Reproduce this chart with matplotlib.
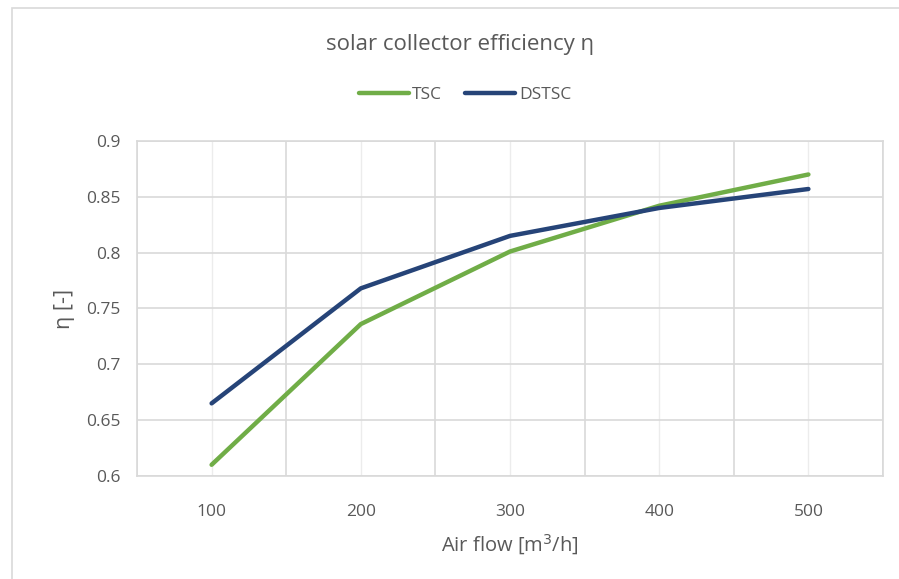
import matplotlib.pyplot as plt
from matplotlib.patches import Rectangle

# air flow categories and collector efficiencies
air_flow = ["100", "200", "300", "400", "500"]
eta_tsc = [0.610, 0.736, 0.801, 0.842, 0.870]
eta_dstsc = [0.665, 0.768, 0.815, 0.840, 0.857]
y_ticks = [0.6, 0.65, 0.7, 0.75, 0.8, 0.85, 0.9]
y_tick_labels = ["0.6", "0.65", "0.7", "0.75", "0.8", "0.85", "0.9"]

plt.rcParams["font.family"] = ["Open Sans", "DejaVu Sans"]
text_grey = "#595959"

fig = plt.figure(figsize=(8.99, 5.79), dpi=100)
fig.patches.append(Rectangle((0.013, -0.01), 1.0, 0.997, transform=fig.transFigure,
                             fill=False, edgecolor="#d9d9d9", linewidth=1.2))

ax = fig.add_axes([0.1524, 0.178, 0.8298, 0.5785])
x = range(len(air_flow))
ax.plot(x, eta_tsc, color="#70AD47", linewidth=3.2, solid_capstyle="round", label="TSC")
ax.plot(x, eta_dstsc, color="#264478", linewidth=3.2, solid_capstyle="round", label="DSTSC")

ax.set_xlim(-0.5, len(air_flow) - 0.5)
ax.set_ylim(0.6, 0.9)
ax.set_xticks(list(x))
ax.set_xticklabels(air_flow)
ax.set_xticks([i - 0.5 for i in range(len(air_flow) + 1)], minor=True)
ax.set_yticks(y_ticks)
ax.set_yticklabels(y_tick_labels)
ax.tick_params(axis="both", which="both", length=0, labelsize=12.5, colors=text_grey)
ax.tick_params(axis="x", pad=20)
ax.tick_params(axis="y", pad=12)

ax.grid(True, axis="y", color="#d9d9d9", linewidth=1.2)
ax.grid(True, axis="x", which="minor", color="#d9d9d9", linewidth=1.2)
ax.grid(True, axis="x", which="major", color="#ececec", linewidth=1.0)
ax.set_axisbelow(True)
for side in ["top", "right", "left", "bottom"]:
    ax.spines[side].set_color("#d9d9d9")
    ax.spines[side].set_linewidth(1.2)

ax.set_xlabel("Air flow [m$^3$/h]", fontsize=14.5, color=text_grey, labelpad=9)
ax.set_ylabel("η [-]", fontsize=15.5, color=text_grey, labelpad=8)

fig.text(0.512, 0.924, "solar collector efficiency η", ha="center", va="center",
         fontsize=16, color=text_grey)
fig.legend(loc="center", bbox_to_anchor=(0.517, 0.836), ncol=2, frameon=False,
           fontsize=12.5, labelcolor=text_grey, handlelength=2.9, handletextpad=0.2,
           columnspacing=1.3)

fig.savefig("out.png", dpi=100)
